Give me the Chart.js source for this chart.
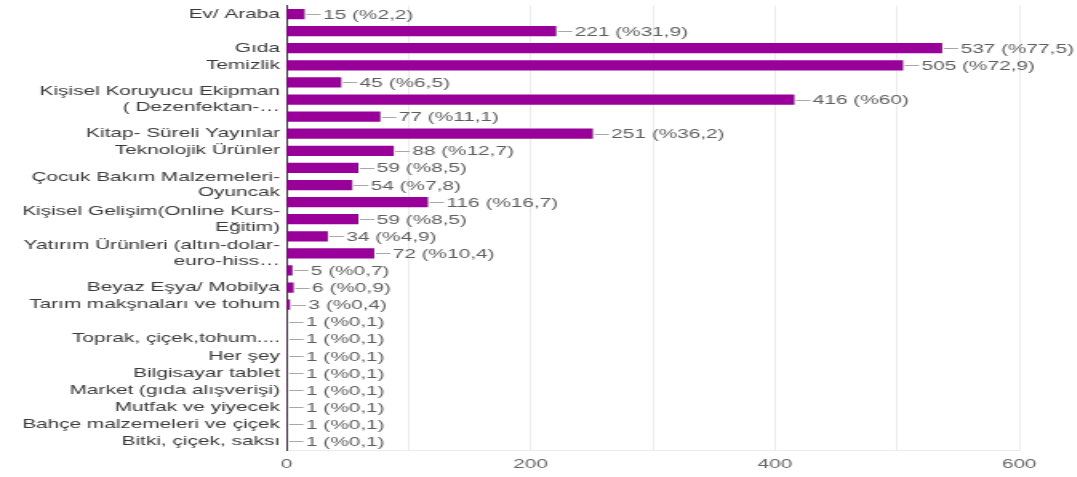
<!DOCTYPE html>
<html>
<head>
<meta charset="utf-8">
<script src="https://cdn.jsdelivr.net/npm/chart.js@4/dist/chart.umd.min.js"></script>
<style>
  html, body { margin: 0; padding: 0; background: #fff; overflow: hidden; }
  /* the source picture is stretched sideways, so the chart is too */
  #wrap { width: 673px; height: 477px; transform: scaleX(1.6); transform-origin: 0 0; }
</style>
</head>
<body>
<div id="wrap"><canvas id="grafik"></canvas></div>
<script>
// Kategoriler (boş olanlar resimde etiketsiz)
const kategoriler = [
    'Ev/ Araba',
    '',
    'Gıda',
    'Temizlik',
    '',
    ['Kişisel Koruyucu Ekipman', '( Dezenfektan-…'],
    '',
    'Kitap- Süreli Yayınlar',
    'Teknolojik Ürünler',
    '',
    ['Çocuk Bakım Malzemeleri-', 'Oyuncak'],
    '',
    ['Kişisel Gelişim(Online Kurs-', 'Eğitim)'],
    '',
    ['Yatırım Ürünleri (altın-dolar-', 'euro-hiss…'],
    '',
    'Beyaz Eşya/ Mobilya',
    'Tarım makşnaları ve tohum',
    '',
    'Toprak, çiçek,tohum....',
    'Her şey',
    'Bilgisayar tablet',
    'Market (gıda alışverişi)',
    'Mutfak ve yiyecek',
    'Bahçe malzemeleri ve çiçek',
    'Bitki, çiçek, saksı'
];

const cevaplar = [15, 221, 537, 505, 45, 416, 77, 251, 88, 59, 54, 116, 59, 34, 72, 5, 6, 3, 1, 1, 1, 1, 1, 1, 1, 1];
const yuzdeler = ['2,2', '31,9', '77,5', '72,9', '6,5', '60', '11,1', '36,2', '12,7', '8,5', '7,8', '16,7', '8,5', '4,9', '10,4', '0,7', '0,9', '0,4', '0,1', '0,1', '0,1', '0,1', '0,1', '0,1', '0,1', '0,1'];

const eksenEtiketleri = [0, 200, 400, 600];

const yaziTipi = "'Liberation Sans', Arial, sans-serif";

// Çubuk sonundaki "— 15 (%2,2)" etiketleri
const degerEtiketi = {
    id: 'degerEtiketi',
    afterDatasetsDraw(chart) {
        const ctx = chart.ctx;
        const meta = chart.getDatasetMeta(0);
        ctx.save();
        ctx.font = '13px ' + yaziTipi;
        ctx.textBaseline = 'middle';
        ctx.textAlign = 'left';
        meta.data.forEach((bar, i) => {
            const x = bar.x;
            const y = bar.y;
            ctx.strokeStyle = '#a8a8a8';
            ctx.lineWidth = 1;
            ctx.beginPath();
            ctx.moveTo(x + 1, Math.round(y) + 0.5);
            ctx.lineTo(x + 10, Math.round(y) + 0.5);
            ctx.stroke();
            ctx.fillStyle = '#5e5e5e';
            ctx.fillText(cevaplar[i] + ' (%' + yuzdeler[i] + ')', x + 11.5, y + 1);
        });
        ctx.restore();
    }
};

const grafikCtx = document.getElementById('grafik').getContext('2d');
const grafik = new Chart(grafikCtx, {
    type: 'bar',
    data: {
        labels: kategoriler,
        datasets: [{
            data: cevaplar,
            backgroundColor: '#990099',
            borderWidth: 0,
            barPercentage: 0.6,
            categoryPercentage: 1
        }]
    },
    options: {
        indexAxis: 'y',
        responsive: true,
        maintainAspectRatio: false,
        animation: false,
        layout: { padding: { left: 0, right: 36, top: 5.5, bottom: 0 } },
        plugins: {
            legend: { display: false },
            tooltip: { enabled: false }
        },
        scales: {
            x: {
                min: 0,
                max: 600,
                ticks: {
                    stepSize: 100,
                    padding: 7,
                    color: '#666',
                    font: { family: yaziTipi, size: 13 },
                    callback: (v) => eksenEtiketleri.includes(v) ? String(v) : ''
                },
                grid: { color: '#ececec', drawTicks: false },
                border: { color: '#ececec' },
                afterFit: (scale) => { scale.height = 27; }
            },
            y: {
                ticks: {
                    autoSkip: false,
                    padding: 4,
                    color: '#3a3a3a',
                    font: { family: yaziTipi, size: 13, lineHeight: 1.2 }
                },
                grid: { display: false, drawTicks: false },
                border: { display: true, color: '#333', width: 1 },
                afterFit: (scale) => {
                    scale.width = 179;
                    scale.paddingTop = 0;
                    scale.paddingBottom = 0;
                }
            }
        }
    },
    plugins: [degerEtiketi]
});
</script>
</body>
</html>
